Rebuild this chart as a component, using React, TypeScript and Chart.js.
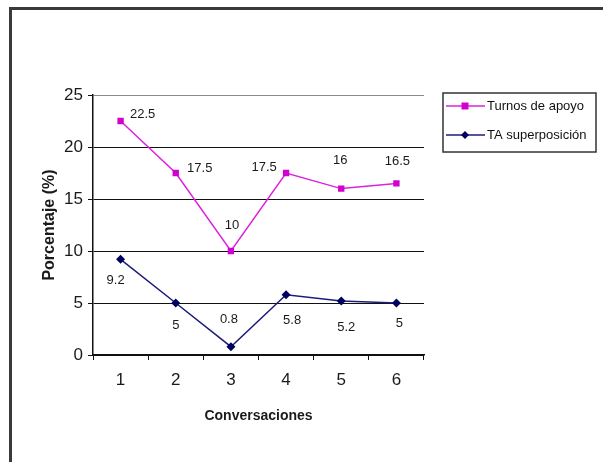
import React, { useEffect, useRef } from "react";
import { Chart, registerables } from "chart.js";

Chart.register(...registerables);

// Categories and series
const conversaciones = ["1", "2", "3", "4", "5", "6"];
const turnosApoyo = [22.5, 17.5, 10, 17.5, 16, 16.5];
const taSuperposicion = [9.2, 5, 0.8, 5.8, 5.2, 5];
const seriesNames = ["Turnos de apoyo", "TA superposición"];
const yMin = 0;
const yMax = 25;
const yStep = 5;

const FONT = "'Liberation Sans', Arial, sans-serif";
const PINK = "#dd22dd";
const PINK_MARK = "#d100d1";
const NAVY = "#1c1c7a";
const NAVY_MARK = "#000060";

// Value label placement (dx, dy) around each marker
const pinkLabelOffsets = [
  [22, -7],
  [24, -5],
  [1, -26],
  [-22, -6],
  [-1, -28],
  [1, -22],
];
const navyLabelOffsets = [
  [-5, 21],
  [0, 22],
  [-2, -27],
  [6, 26],
  [5, 27],
  [3, 20],
];

const valueLabels = {
  id: "valueLabels",
  afterDatasetsDraw(chart: any) {
    const ctx = chart.ctx;
    ctx.save();
    ctx.font = `13px ${FONT}`;
    ctx.fillStyle = "#1a1a1a";
    ctx.textAlign = "center";
    ctx.textBaseline = "middle";
    const offsets = [pinkLabelOffsets, navyLabelOffsets];
    chart.data.datasets.forEach((ds: any, i: number) => {
      const meta = chart.getDatasetMeta(i);
      meta.data.forEach((pt: any, j: number) => {
        const [dx, dy] = offsets[i][j];
        ctx.fillText(String(ds.data[j]), pt.x + dx, pt.y + dy);
      });
    });
    ctx.restore();
  },
};

const boxedLegend = {
  id: "boxedLegend",
  afterDraw(chart: any) {
    const ctx = chart.ctx;
    const left = 443;
    const top = 93;
    const w = 153;
    const h = 59;
    ctx.save();
    ctx.strokeStyle = "#333";
    ctx.lineWidth = 1.5;
    ctx.strokeRect(left, top, w, h);
    chart.data.datasets.forEach((ds: any, i: number) => {
      const y = top + 13 + i * 29;
      ctx.strokeStyle = ds.borderColor;
      ctx.lineWidth = 1.5;
      ctx.beginPath();
      ctx.moveTo(left + 3, y);
      ctx.lineTo(left + 42, y);
      ctx.stroke();
      ctx.fillStyle = ds.pointBackgroundColor;
      const cx = left + 22;
      const r = 4;
      ctx.beginPath();
      if (ds.pointStyle === "rectRot") {
        ctx.moveTo(cx, y - r);
        ctx.lineTo(cx + r, y);
        ctx.lineTo(cx, y + r);
        ctx.lineTo(cx - r, y);
        ctx.closePath();
      } else {
        ctx.rect(cx - 3.5, y - 3.5, 7, 7);
      }
      ctx.fill();
      ctx.fillStyle = "#111";
      ctx.font = `13px ${FONT}`;
      ctx.textAlign = "left";
      ctx.textBaseline = "middle";
      ctx.fillText(ds.label, left + 44, y);
    });
    ctx.restore();
  },
};

export default function App() {
  const canvasRef = useRef<HTMLCanvasElement | null>(null);

  useEffect(() => {
    if (!canvasRef.current) return;
    const chart = new Chart(canvasRef.current, {
      type: "line",
      data: {
        labels: conversaciones,
        datasets: [
          {
            label: seriesNames[0],
            data: turnosApoyo,
            borderColor: PINK,
            borderWidth: 1.5,
            pointStyle: "rect",
            pointRadius: 4.5,
            pointBackgroundColor: PINK_MARK,
            pointBorderColor: PINK_MARK,
            pointBorderWidth: 0,
            tension: 0,
          },
          {
            label: seriesNames[1],
            data: taSuperposicion,
            borderColor: NAVY,
            borderWidth: 1.5,
            pointStyle: "rectRot",
            pointRadius: 4.5,
            pointBackgroundColor: NAVY_MARK,
            pointBorderColor: NAVY_MARK,
            pointBorderWidth: 0,
            tension: 0,
          },
        ],
      },
      options: {
        animation: false,
        responsive: false,
        devicePixelRatio: 1,
        layout: { padding: { left: 36, top: 95, right: 179, bottom: 33 } },
        plugins: {
          legend: { display: false },
          tooltip: { enabled: false },
        },
        scales: {
          x: {
            type: "category",
            offset: true,
            afterFit: (s: any) => {
              s.height = 74;
            },
            grid: {
              offset: true,
              drawOnChartArea: true,
              color: (c: any) => (c.index === conversaciones.length ? "#8a8a8a" : "rgba(0,0,0,0)"),
              tickColor: "#111",
              tickLength: 5,
              lineWidth: 1,
            },
            border: { display: true, color: "#111", width: 1.5 },
            ticks: {
              color: "#1a1a1a",
              font: { family: FONT, size: 17 },
              padding: 10,
              maxRotation: 0,
            },
            title: {
              display: true,
              text: "Conversaciones",
              color: "#1a1a1a",
              font: { family: FONT, size: 14, weight: "bold" },
            },
          },
          y: {
            min: yMin,
            max: yMax,
            afterFit: (s: any) => {
              s.width = 57;
            },
            grid: {
              color: (c: any) => (c.tick && c.tick.value === yMax ? "#8a8a8a" : "#111"),
              tickColor: "#111",
              tickLength: 5,
              lineWidth: 1,
            },
            border: { display: true, color: "#111", width: 1.5 },
            ticks: {
              stepSize: yStep,
              color: "#1a1a1a",
              font: { family: FONT, size: 17 },
              padding: 5,
            },
            title: {
              display: true,
              text: "Porcentaje (%)",
              color: "#1a1a1a",
              font: { family: FONT, size: 16, weight: "bold" },
            },
          },
        },
      },
      plugins: [valueLabels, boxedLegend],
    });
    return () => chart.destroy();
  }, []);

  return (
    <div
      style={{
        position: "fixed",
        left: 0,
        top: 0,
        width: 603,
        height: 462,
        background: "#fff",
        overflow: "hidden",
      }}
    >
      <div
        style={{
          position: "absolute",
          left: 9,
          top: 7,
          width: 800,
          height: 800,
          borderTop: "3px solid #3a3a3a",
          borderLeft: "3px solid #3a3a3a",
        }}
      />
      <canvas
        ref={canvasRef}
        width={603}
        height={462}
        style={{ position: "absolute", left: 0, top: 0, width: 603, height: 462 }}
      />
    </div>
  );
}
